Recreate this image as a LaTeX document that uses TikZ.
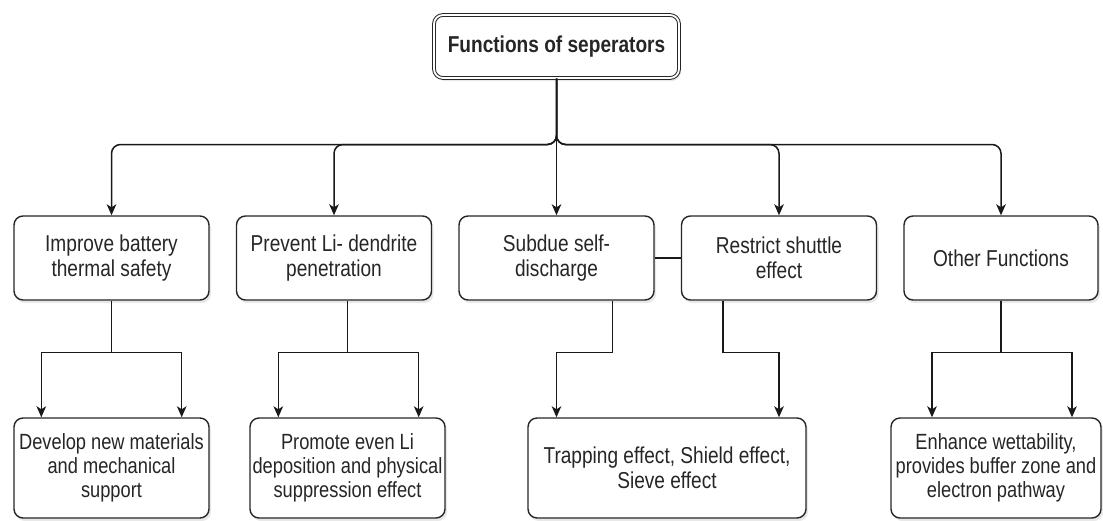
\documentclass[tikz,border=0pt]{standalone}
\usepackage{fontspec}
\setmainfont{Liberation Sans}[FakeStretch=0.83]
\usetikzlibrary{arrows.meta,shadows,calc}
\begin{document}
\begin{tikzpicture}[x=1pt,y=-1pt,
  box/.style={draw=black!85, line width=1.4pt, rounded corners=9pt, fill=white,
    align=center, inner sep=2pt, text=black!85,
    drop shadow={shadow xshift=2pt, shadow yshift=-3pt, opacity=0.18},
    font=\fontsize{23}{24.5}\selectfont},
  rowone/.style={box, minimum width=195pt, minimum height=84pt},
  rowtwo/.style={box, minimum height=100pt, font=\fontsize{22}{24}\selectfont},
  arr/.style={draw=black!90, line width=1.5pt, -{Stealth[length=11pt,width=9.5pt,inset=3pt]}},
  link/.style={draw=black!90, line width=1.5pt},
  bus/.style={arr, rounded corners=9pt}
]
\useasboundingbox (0,0) rectangle (1103,520);

% top node
\node[box, double, double distance=1.8pt, line width=1pt,
  minimum width=245pt, minimum height=63pt,
  font=\bfseries\fontsize{23}{24}\selectfont] (top) at (556.5,46.5) {Functions of seperators};

% first row
\node[rowone] (b1) at (111.5,258) {Improve battery\\thermal safety};
\node[rowone] (b2) at (334,258) {Prevent Li- dendrite\\penetration};
\node[rowone] (b3) at (556.5,258) {Subdue self-\\discharge};
\node[rowone] (b4) at (779,258) {Restrict shuttle\\effect};
\node[rowone, minimum width=194pt] (b5) at (1001,258) {Other Functions};

% second row
\node[rowtwo, minimum width=195pt] (A) at (111.5,468) {Develop new materials\\and mechanical\\support};
\node[rowtwo, minimum width=195pt] (B) at (347.5,468) {Promote even Li\\deposition and physical\\suppression effect};
\node[rowtwo, minimum width=278pt, font=\fontsize{23}{25}\selectfont] (C) at (667,468) {Trapping effect, Shield effect,\\Sieve effect};
\node[rowtwo, minimum width=210pt] (D) at (996,468) {Enhance wettability,\\provides buffer zone and\\electron pathway};

% top to first row
\draw[bus] (top.south) -- ++(0,66) -| (b1.north);
\draw[bus] (top.south) -- ++(0,66) -| (b2.north);
\draw[arr] (top.south) -- (b3.north);
\draw[bus] (top.south) -- ++(0,66) -| (b4.north);
\draw[bus] (top.south) -- ++(0,66) -| (b5.north);

% link between b3 and b4
\draw[link] (b3.east) -- (b4.west);

% first row to second row
\draw[arr] (b1.south) -- ++(0,52) -| ([xshift=28pt]A.north west);
\draw[arr] (b1.south) -- ++(0,52) -| ([xshift=-28pt]A.north east);
\draw[arr] (b2.south -| B.north) -- ++(0,52) -| ([xshift=29pt]B.north west);
\draw[arr] (b2.south -| B.north) -- ++(0,52) -| ([xshift=-27pt]B.north east);
\draw[arr] ([xshift=56pt]b3.south) -- ++(0,52) -| (b3.south |- C.north);
\draw[arr] ([xshift=-56pt]b4.south) -- ++(0,52) -| (b4.south |- C.north);
\draw[arr] (b5.south) -- ++(0,52) -| ([xshift=-69pt]b5.south |- D.north);
\draw[arr] (b5.south) -- ++(0,52) -| ([xshift=71pt]b5.south |- D.north);
\end{tikzpicture}
\end{document}
